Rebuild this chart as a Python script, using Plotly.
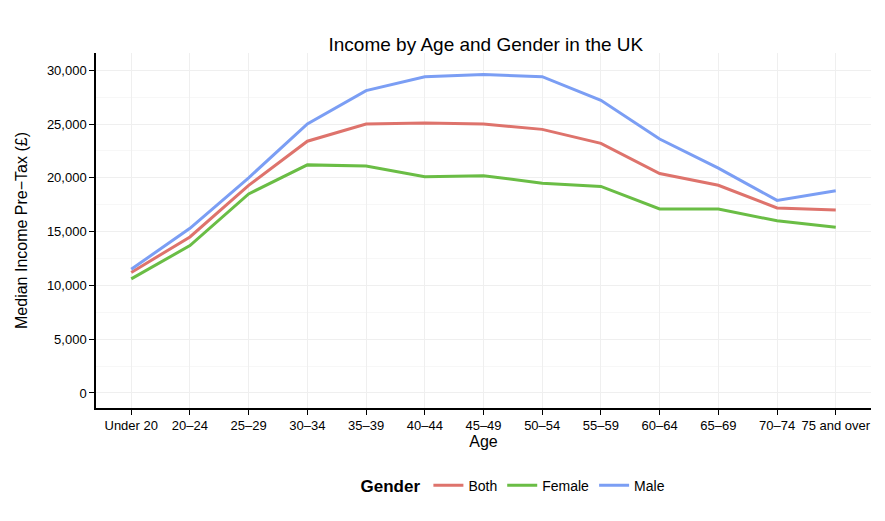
import plotly.graph_objects as go

ages = ["Under 20", "20–24", "25–29", "30–34", "35–39", "40–44", "45–49", "50–54",
        "55–59", "60–64", "65–69", "70–74", "75 and over"]
both = [11200, 14500, 19300, 23400, 25000, 25100, 25000, 24500, 23200, 20400, 19300, 17200, 17000]
female = [10600, 13700, 18500, 21200, 21100, 20100, 20200, 19500, 19200, 17100, 17100, 16000, 15400]
male = [11500, 15300, 20000, 25000, 28100, 29400, 29600, 29400, 27200, 23600, 20900, 17900, 18800]

series = [("Both", both, "#DE736C"), ("Female", female, "#6ABD45"), ("Male", male, "#7B9EF4")]
fig = go.Figure()
for name, vals, col in series:
    fig.add_trace(go.Scatter(x=ages, y=vals, mode="lines", name=name,
                             line=dict(color=col, width=3)))

fig.update_layout(
    width=885, height=521, plot_bgcolor="white", paper_bgcolor="white",
    margin=dict(l=88, r=22, t=45, b=121),
    font=dict(family="Liberation Sans, Arial", size=13, color="black"),
    title=dict(text="Income by Age and Gender in the UK", x=0.54, xanchor="center",
               y=0.93, yanchor="middle", font=dict(size=19)),
    legend=dict(orientation="h", x=0.54, xanchor="center", y=-0.22, yanchor="middle",
                title=dict(text="<b>Gender</b>"), font=dict(size=14)),
    xaxis=dict(title=dict(text="Age", standoff=2, font=dict(size=16)), range=[-0.6, 12.6],
               tickangle=0, automargin=False, tickfont=dict(size=13),
               showline=True, linecolor="black", linewidth=1.5, ticks="outside",
               ticklen=5, tickcolor="black", showgrid=True, gridcolor="#EFEFEF"),
    yaxis=dict(title=dict(text="Median Income Pre−Tax (£)", font=dict(size=16)),
               automargin=False,
               range=[-1400, 31600], tickvals=[0, 5000, 10000, 15000, 20000, 25000, 30000],
               tickformat=",", showline=True, linecolor="black", linewidth=1.5,
               ticks="outside", ticklen=5, tickcolor="black", zeroline=False,
               showgrid=True, gridcolor="#EFEFEF",
               minor=dict(dtick=2500, showgrid=True, gridcolor="#F7F7F7")),
)
fig.write_html("out.html")
